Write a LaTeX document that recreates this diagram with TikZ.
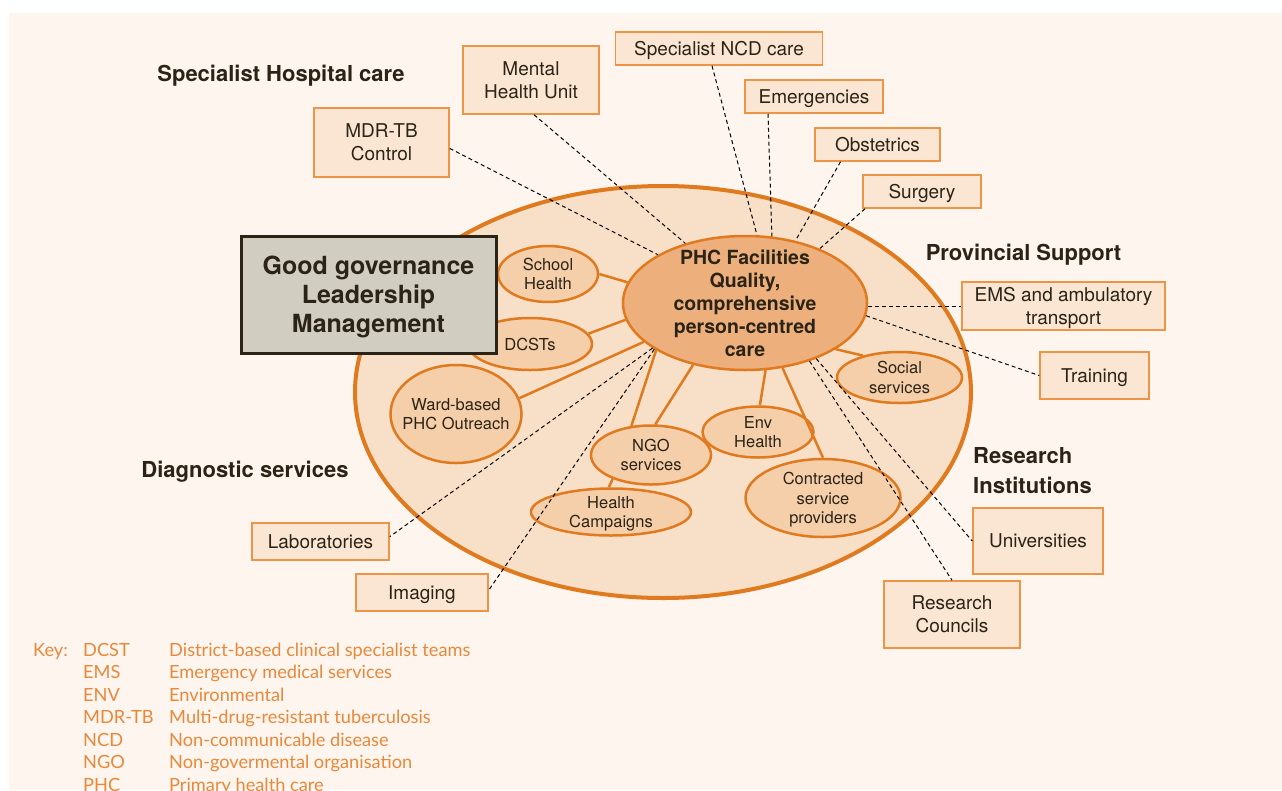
\documentclass[tikz,border=0pt]{standalone}
\usepackage{fontspec}
\setmainfont{TeX Gyre Heros}
\newfontfamily\keyfont{Lato}
\usetikzlibrary{shapes.geometric}

\definecolor{panel}{HTML}{FDF5EE}
\definecolor{ink}{HTML}{2B2416}
\definecolor{boxfill}{HTML}{FBE5D3}
\definecolor{boxline}{HTML}{EE9447}
\definecolor{bigfill}{HTML}{F8DFC7}
\definecolor{ovalline}{HTML}{E07A1F}
\definecolor{ovalfill}{HTML}{F5CEAA}
\definecolor{phcfill}{HTML}{EDB07D}
\definecolor{govfill}{HTML}{D1CDC1}
\definecolor{keyorange}{HTML}{E8883A}

\tikzset{
  panelbox/.style={draw=boxline, fill=boxfill, line width=1.5pt, inner sep=0pt,
    align=center, text=ink, text depth=0pt, font=\fontsize{19}{23}\selectfont},
  oval/.style={ellipse, draw=ovalline, fill=ovalfill, line width=2.5pt, inner sep=0pt},
  ovaltext/.style={font=\fontsize{16.5}{19.5}\selectfont, align=center, text=ink,
    inner sep=0pt, text depth=0pt},
  phctext/.style={font=\bfseries\fontsize{19.5}{23}\selectfont, align=center, text=ink,
    inner sep=0pt, text depth=0pt},
  heading/.style={font=\bfseries\fontsize{22}{30}\selectfont, text=ink, inner sep=0pt},
  link/.style={draw=ovalline, line width=2.5pt},
  dashlink/.style={draw=black, line width=1pt, dash pattern=on 4pt off 3pt},
}

\begin{document}
\begin{tikzpicture}[x=1pt, y=-1pt]
\useasboundingbox (0,0) rectangle (1282,790);
\clip (0,0) rectangle (1282,790);
\fill[white] (0,0) rectangle (1282,790);
\fill[panel] (9,13) rectangle (1282,790);

% outer district ring
\node[ellipse, draw=ovalline, fill=bigfill, line width=4pt, inner sep=0pt,
      minimum width=616, minimum height=412] (district) at (663,392) {};

% central PHC facilities
\node[oval, fill=phcfill, minimum width=244, minimum height=134,
      label={[phctext]center:{PHC Facilities\\Quality,\\comprehensive\\person-centred\\care}}]
      (phc) at (745,303) {};

% services around the PHC facilities
\node[oval, minimum width=100, minimum height=56,
      label={[ovaltext]center:{School\\Health}}] (school) at (548,274) {};
\node[oval, minimum width=124, minimum height=52,
      label={[ovaltext]center:{DCSTs}}] (dcst) at (530,344) {};
\node[oval, minimum width=131, minimum height=98,
      label={[ovaltext]center:{Ward-based\\PHC Outreach}}] (ward) at (456,414) {};
\node[oval, minimum width=120, minimum height=59,
      label={[ovaltext]center:{NGO\\services}}] (ngo) at (651,455) {};
\node[oval, minimum width=160, minimum height=47,
      label={[ovaltext]center:{Health\\Campaigns}}] (hc) at (611,512) {};
\node[oval, minimum width=111, minimum height=51,
      label={[ovaltext]center:{Env\\Health}}] (env) at (758,432) {};
\node[oval, minimum width=155, minimum height=78,
      label={[ovaltext]center:{Contracted\\service\\providers}}] (contr) at (823,498) {};
\node[oval, minimum width=125, minimum height=51,
      label={[ovaltext]center:{Social\\services}}] (social) at (899.5,377.5) {};

% solid links from PHC facilities
\draw[link] (phc.170) -- (school.0);
\draw[link] (phc.188) -- (dcst.10);
\draw[link] (phc.201) -- (ward.14.5);
\draw[link] (phc.208) -- (ngo.124);
\draw[link] (phc.230) -- (ngo.82);
\draw[link] (phc.287) -- (env.86);
\draw[link] (phc.300) -- (contr.90);
\draw[link] (phc.-27) -- (social.149.5);
\draw[link] (ngo.212) -- (hc.95);

% governance box
\node[draw=ink, fill=govfill, line width=3pt, inner sep=0pt, minimum width=255,
      minimum height=117, align=center, text=ink, text depth=0pt,
      font=\bfseries\fontsize{25}{29}\selectfont] (gov) at (368.5,294.5)
      {Good governance\\Leadership\\Management};

% outside services
\node[panelbox, minimum width=135, minimum height=69] (mdr) at (381.5,142.5) {MDR-TB\\Control};
\node[panelbox, minimum width=136, minimum height=68] (mental) at (531,80) {Mental\\Health Unit};
\node[panelbox, minimum width=207, minimum height=33] (ncd) at (719,48.5) {Specialist NCD care};
\node[panelbox, minimum width=138, minimum height=33] (emerg) at (814,96.5) {Emergencies};
\node[panelbox, minimum width=125, minimum height=33] (obst) at (877.5,144.5) {Obstetrics};
\node[panelbox, minimum width=118, minimum height=33] (surg) at (922,191.5) {Surgery};
\node[panelbox, minimum width=203, minimum height=48] (ems) at (1063.5,306) {EMS and ambulatory\\transport};
\node[panelbox, minimum width=109, minimum height=47] (training) at (1094.5,375.5) {Training};
\node[panelbox, minimum width=130, minimum height=66] (univ) at (1038,541) {Universities};
\node[panelbox, minimum width=136, minimum height=67] (rescouncil) at (952,614.5) {Research\\Councils};
\node[panelbox, minimum width=137, minimum height=37] (lab) at (320.5,541.5) {Laboratories};
\node[panelbox, minimum width=132, minimum height=37] (imaging) at (422,592.5) {Imaging};

% dashed links to outside services
\draw[dashlink] (mdr.-5) -- (phc.151);
\draw[dashlink] ([xshift=3]mental.south) -- (phc.135);
\draw[dashlink] ([xshift=-7]ncd.south) -- (phc.80);
\draw[dashlink] ([xshift=-46]emerg.south) -- (phc.68);
\draw[dashlink] ([xshift=-37]obst.south) -- (phc.51);
\draw[dashlink] ([xshift=-57]surg.south) -- (phc.36);
\draw[dashlink] (phc.east |- ems.west) -- (ems.west);
\draw[dashlink] (phc.-6) -- (training.west);
\draw[dashlink] (phc.-38) -- (univ.west);
\draw[dashlink] (phc.-42) -- (rescouncil.north);
\draw[dashlink] (phc.206) -- (lab.4);
\draw[dashlink] (phc.207) -- (imaging.2);

% group headings
\node[heading, anchor=base] (hosp) at (281,81) {Specialist Hospital care};
\node[heading, anchor=base] (prov) at (1023.5,260) {Provincial Support};
\node[heading, anchor=base] (diag) at (245,477) {Diagnostic services};
\node[heading, anchor=west, align=left, text depth=0pt] (resinst) at (973,470) {Research\\Institutions};

% key
\node[anchor=base west, inner sep=0pt, text=keyorange,
      font=\keyfont\fontsize{18.2}{22.5}\selectfont] (key) at (33,656)
{\begin{tabular}[t]{@{}p{50pt}@{}p{86pt}@{}l@{}}
Key: & DCST & District-based clinical specialist teams\\
 & EMS & Emergency medical services\\
 & ENV & Environmental\\
 & MDR-TB & Multi-drug-resistant tuberculosis\\
 & NCD & Non-communicable disease\\
 & NGO & Non-govermental organisation\\
 & PHC & Primary health care
\end{tabular}};
\end{tikzpicture}
\end{document}
